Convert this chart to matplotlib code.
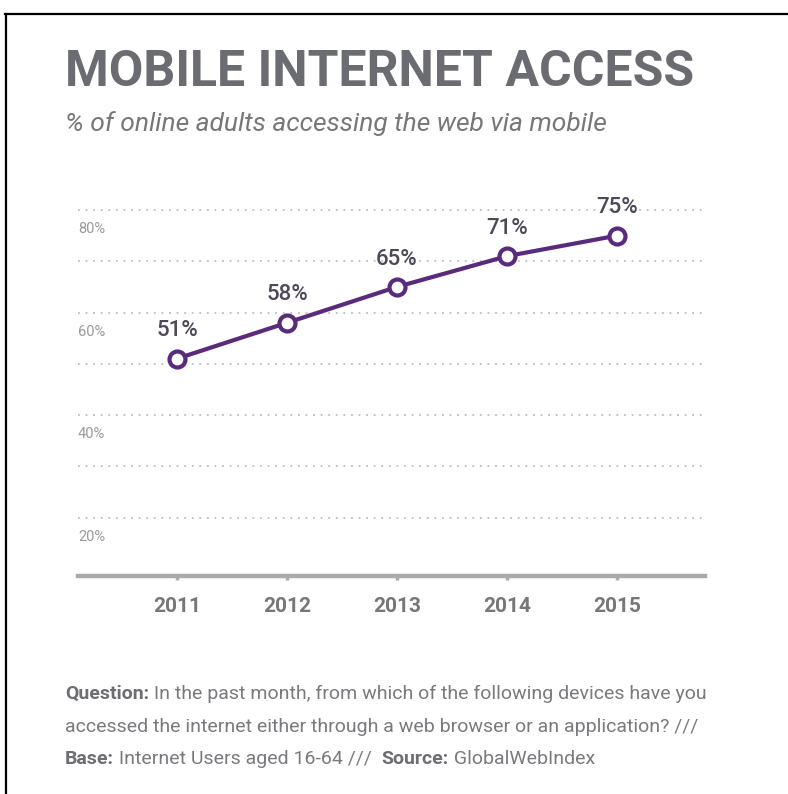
import matplotlib
matplotlib.use("Agg")
import matplotlib.pyplot as plt
from matplotlib.lines import Line2D

years = [2011, 2012, 2013, 2014, 2015]
share = [51, 58, 65, 71, 75]
point_labels = ["51%", "58%", "65%", "71%", "75%"]
grid_levels = [20, 30, 40, 50, 60, 70, 80]
y_labels = [20, 40, 60, 80]

title = "MOBILE INTERNET ACCESS"
subtitle = "% of online adults accessing the web via mobile"
footer = [
    [("Question:", "bold"), (" In the past month, from which of the following devices have you", "normal")],
    [("accessed the internet either through a web browser or an application? ///", "normal")],
    [("Base:", "bold"), (" Internet Users aged 16-64 ///  ", "normal"), ("Source:", "bold"), (" GlobalWebIndex", "normal")],
]

purple = "#5a2a7c"
grey_txt = "#7a7a7e"

plt.rcParams['font.family'] = ['Roboto', 'DejaVu Sans']

fig = plt.figure(figsize=(7.88, 7.94), dpi=100)
W, H = 788, 794

ax = fig.add_axes([78 / W, 1 - 576 / H, (705 - 78) / W, (576 - 190) / H])
ax.set_xlim(2010.1, 2015.8)
ax.set_ylim(8.6, 83.9)

# dotted guide lines
for lv in grid_levels:
    ax.axhline(lv, color="#bdbdbd", lw=1.3, linestyle=(0, (1, 3.2)), zorder=1)

for lv in y_labels:
    ax.annotate(f"{lv}%", xy=(0, lv), xycoords=("axes fraction", "data"),
                xytext=(0, -14), textcoords="offset points",
                ha="left", va="center", fontsize=10.5, color="#9a9a9a")

ax.plot(years, share, color=purple, lw=3, marker="o", markersize=11.5,
        markerfacecolor="white", markeredgecolor=purple, markeredgewidth=3, zorder=3)

for x, y, lab in zip(years, share, point_labels):
    ax.annotate(lab, xy=(x, y), xytext=(0, 20), textcoords="offset points",
                ha="center", va="center", fontsize=16, fontweight="medium", color="#4e4858")

for s in ["top", "right", "left"]:
    ax.spines[s].set_visible(False)
ax.spines["bottom"].set_color("#aaaaaa")
ax.spines["bottom"].set_linewidth(3.2)
ax.set_yticks([])
ax.set_xticks(years)
ax.set_xticklabels([str(y) for y in years], fontsize=15, fontweight="bold", color="#777777")
ax.tick_params(axis="x", length=3, width=2.5, color="#aaaaaa", pad=12)

# header
fig.text(65 / W, 1 - 72 / H, title, fontsize=36, fontweight="bold", color="#6b6c72",
         ha="left", va="center")
fig.text(65 / W, 1 - 124 / H, subtitle, fontsize=19, style="italic", color="#777777",
         ha="left", va="center")

# footer with mixed weights
fig.canvas.draw()
renderer = fig.canvas.get_renderer()
for i, parts in enumerate(footer):
    xpix = 65
    ypix = 694 + i * 32.5
    for txt, wt in parts:
        t = fig.text(xpix / W, 1 - ypix / H, txt, fontsize=14, fontweight=wt,
                     color="#6e6e72" if wt == "bold" else grey_txt, ha="left", va="center")
        xpix += t.get_window_extent(renderer).width

# frame of the original screenshot
fig.add_artist(Line2D([5 / W, 1], [1 - 14 / H, 1 - 14 / H], color="black", lw=1.6))
fig.add_artist(Line2D([6 / W, 6 / W], [0, 1 - 14 / H], color="black", lw=1.6))

fig.savefig("out.png", dpi=100)
